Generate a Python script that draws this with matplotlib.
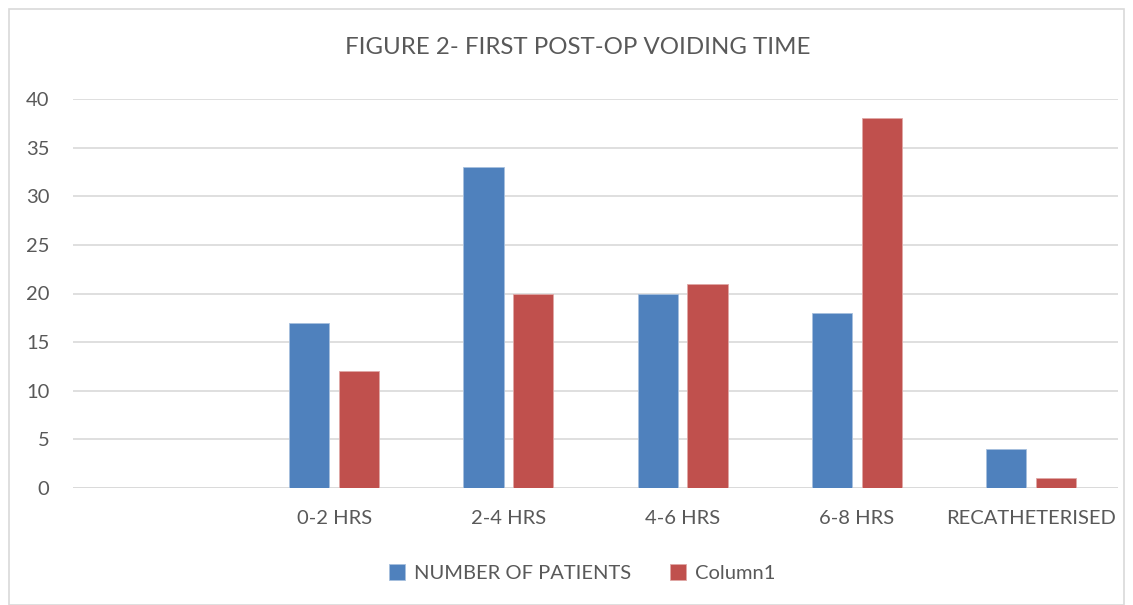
import numpy as np
import matplotlib.pyplot as plt
from matplotlib.patches import Rectangle

# data
categories = ["", "0-2 HRS", "2-4 HRS", "4-6 HRS", "6-8 HRS", "RECATHETERISED"]
patients = [0, 17, 33, 20, 18, 4]
column1 = [0, 12, 20, 21, 38, 1]
series_names = ["NUMBER OF PATIENTS", "Column1"]

BLUE = "#4F81BD"
RED = "#C0504D"
TXT = "#595959"
GRID = "#D9D9D9"

plt.rcParams['font.family'] = ['Lato', 'DejaVu Sans']

fig = plt.figure(figsize=(11.33, 6.05), dpi=100)
ax = fig.add_axes([73 / 1133, 1 - 488 / 605, 1045 / 1133, 389 / 605])

x = np.arange(len(categories))
w = 0.23
off = 0.143
ax.bar(x - off, patients, w, color=BLUE, edgecolor="#A7C0DE", linewidth=0.6,
       label=series_names[0], zorder=3)
ax.bar(x + off, column1, w, color=RED, edgecolor="#DFA8A6", linewidth=0.6,
       label=series_names[1], zorder=3)

ax.set_xlim(-0.5, len(categories) - 0.5)
ax.set_ylim(0, 40)
ax.set_yticks(range(0, 41, 5))
ax.yaxis.grid(True, color=GRID, linewidth=1.2, zorder=0)
ax.set_xticks(x)
ax.set_xticklabels(categories)
ax.tick_params(axis='both', length=0, labelsize=14.5, labelcolor=TXT)
ax.tick_params(axis='x', pad=16)
ax.tick_params(axis='y', pad=17)
for s in ax.spines.values():
    s.set_visible(False)
ax.axhline(0, color=GRID, linewidth=1.2, zorder=2)

fig.text(0.51, 1 - 48 / 605, "FIGURE 2- FIRST POST-OP VOIDING TIME",
         ha='center', va='center', fontsize=17.3, color=TXT)

leg = fig.legend(loc='center', bbox_to_anchor=(0.514, 1 - 573 / 605), ncol=2,
                 frameon=False, fontsize=14.5, handlelength=0.8, handleheight=0.8,
                 handletextpad=0.45, columnspacing=1.9)
for t in leg.get_texts():
    t.set_color(TXT)

fig.patches.append(Rectangle((9 / 1133, 0), 1 - 18 / 1133, 1 - 9 / 605,
                             transform=fig.transFigure, fill=False,
                             edgecolor="#D9D9D9", linewidth=1.2))

fig.savefig("out.png", dpi=100)
